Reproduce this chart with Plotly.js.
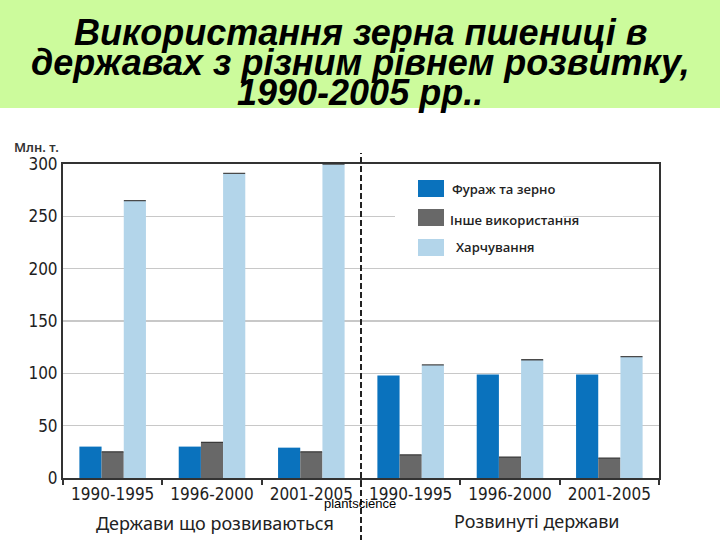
<!DOCTYPE html>
<html>
<head>
<meta charset="utf-8">
<script src="https://cdn.plot.ly/plotly-3.0.1.min.js"></script>
<style>html,body{margin:0;padding:0;background:#fff;}#chart{width:720px;height:540px;}</style>
</head>
<body>
<div id="chart"></div>
<script>
// ---- data ----
const groups = ['Держави що розвиваються', 'Розвинуті держави'];
const periods = ['1990-1995', '1996-2000', '2001-2005'];
const seriesNames = ['Фураж та зерно', 'Інше використання', 'Харчування'];
const feedGrain = [30, 30, 29, 98, 99, 99];
const otherUse = [25, 34, 25, 22, 20, 19];
const foodUse = [265, 291, 300, 108, 113, 116];
const yTicks = [0, 50, 100, 150, 200, 250, 300];
const titleLines = ['Використання зерна пшениці в', 'державах з різним рівнем розвитку,', '1990-2005 рр..'];
const yUnit = 'Млн. т.';
const watermark = 'plantscience';

// ---- build ----
const keys = [], labels = [];
groups.forEach(g => periods.forEach(p => { keys.push(g + ' ' + p); labels.push(p); }));
const colors = ['#0a72bd', '#686868', '#b3d5ea'];
const capColors = [null, '#3a3a3a', '#4a4a4a'];
const vals = [feedGrain, otherUse, foodUse];

const traces = vals.map((v, i) => {
  const t = {
    type: 'bar', x: keys, y: v, name: seriesNames[i],
    marker: {color: colors[i], line: {width: 0}},
    hoverinfo: 'y', showlegend: false
  };
  if (capColors[i]) {
    t.error_y = {type: 'data', array: v.map(() => 0), visible: true, width: 11, thickness: 1.3, color: capColors[i]};
  }
  return t;
});

const W = 720, H = 540, L = 63, R = 61, T = 164, B = 62;
const pw = W - L - R, ph = H - T - B;
const px = x => (x - L) / pw;
const py = y => (H - B - y) / ph;

const shapes = [
  {type: 'rect', xref: 'paper', yref: 'paper', x0: px(-5), x1: px(725), y0: py(108), y1: py(-5),
   fillcolor: '#ccfb9c', line: {width: 0}, layer: 'below'},
  {type: 'line', xref: 'paper', yref: 'paper', x0: 0.5, x1: 0.5, y0: py(541), y1: py(153),
   line: {color: '#222', width: 2, dash: '6px,3px'}, layer: 'above'},
  {type: 'rect', xref: 'paper', yref: 'paper', x0: px(395), x1: px(563), y0: py(262), y1: py(172),
   fillcolor: '#ffffff', line: {width: 0}, layer: 'above'}
];
const swatchY = [[180, 197], [209, 226], [239, 256]];
swatchY.forEach((s, i) => shapes.push({
  type: 'rect', xref: 'paper', yref: 'paper', x0: px(418), x1: px(444), y0: py(s[1]), y1: py(s[0]),
  fillcolor: colors[i], line: {width: 0}, layer: 'above'
}));

const titleFont = {family: 'Liberation Sans, Arial, sans-serif', size: 36, color: '#000', weight: 'bold', style: 'italic'};
const annotations = [];
const titleY = [32, 62, 93];
titleLines.forEach((t, i) => annotations.push({
  text: '<b><i>' + t + '</i></b>', xref: 'paper', yref: 'paper', x: px(360), y: py(titleY[i]),
  xanchor: 'center', yanchor: 'middle', showarrow: false, font: titleFont
}));
const legX = [450, 448, 454], legY = [189, 220, 247];
seriesNames.forEach((n, i) => annotations.push({
  text: n, xref: 'paper', yref: 'paper', x: px(legX[i]), y: py(legY[i]),
  xanchor: 'left', yanchor: 'middle', showarrow: false,
  font: {family: 'Open Sans, Noto Sans, sans-serif', size: 13, color: '#222', weight: 600}
}));
const grpX = [214.5, 536.5], grpY = [523, 521];
groups.forEach((g, i) => annotations.push({
  text: g, xref: 'paper', yref: 'paper', x: px(grpX[i]), y: py(grpY[i]),
  xanchor: 'center', yanchor: 'middle', showarrow: false,
  font: {family: 'Noto Sans, sans-serif', size: 18, color: '#222'}
}));
annotations.push({text: yUnit, xref: 'paper', yref: 'paper', x: px(12), y: py(147), xanchor: 'left', yanchor: 'middle',
  showarrow: false, font: {family: 'Noto Sans, sans-serif', size: 13, color: '#333', weight: 600}});
annotations.push({text: watermark, xref: 'paper', yref: 'paper', x: px(360), y: py(503), xanchor: 'center', yanchor: 'middle',
  showarrow: false, font: {family: 'Liberation Sans, Arial, sans-serif', size: 13, color: '#000'}});

const tickFamily = 'DejaVu Sans Condensed, Liberation Sans, sans-serif';
const layout = {
  width: W, height: H, autosize: false,
  margin: {l: L, r: R, t: T, b: B, pad: 0},
  paper_bgcolor: '#ffffff', plot_bgcolor: '#ffffff',
  barmode: 'group', bargap: 0.33, bargroupgap: 0,
  showlegend: false,
  xaxis: {
    type: 'category', tickmode: 'array', tickvals: keys, ticktext: labels, tickangle: 0,
    tickson: 'boundaries', ticks: 'outside', ticklen: 5, tickwidth: 2, tickcolor: '#333',
    showline: true, mirror: true, linecolor: '#333', linewidth: 2, showgrid: false,
    tickfont: {family: tickFamily, size: 17, color: '#1e1e1e'},
    fixedrange: true
  },
  yaxis: {
    range: [0, 300], tickmode: 'array', tickvals: yTicks, ticks: '',
    showline: true, mirror: true, linecolor: '#333', linewidth: 2,
    showgrid: true, gridcolor: '#c8c8c8', gridwidth: 1.5, zeroline: false,
    tickfont: {family: tickFamily, size: 17, color: '#1e1e1e'},
    fixedrange: true
  },
  shapes: shapes,
  annotations: annotations
};

Plotly.newPlot('chart', traces, layout, {displayModeBar: false, staticPlot: true});
</script>
</body>
</html>
